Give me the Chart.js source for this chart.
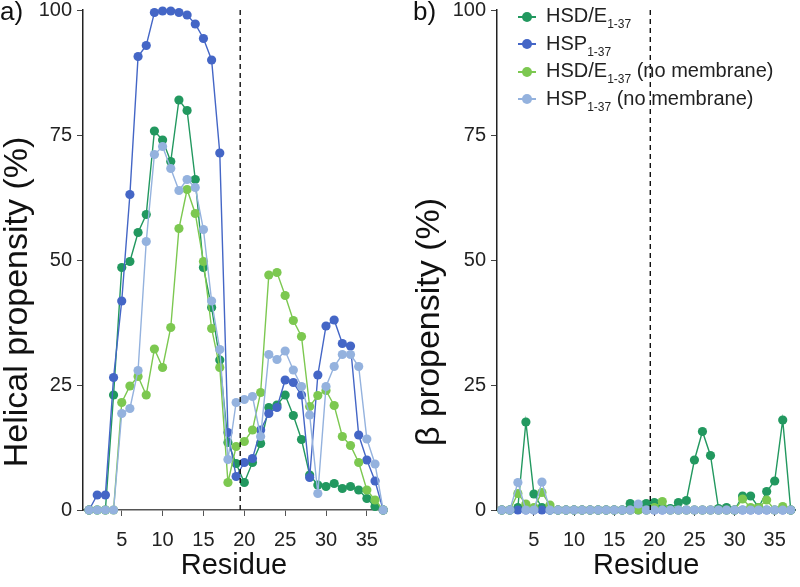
<!DOCTYPE html>
<html>
<head>
<meta charset="utf-8">
<script src="https://cdn.jsdelivr.net/npm/chart.js@4.4.1/dist/chart.umd.min.js"></script>
<style>
  body { margin: 0; background: #fff; font-family: 'Liberation Sans', Arial, sans-serif; }
  #wrap { position: relative; width: 800px; height: 587px; overflow: hidden; }
  #wrap canvas { position: absolute; top: 0; }
  #helixChart { left: 0; }
  #betaChart { left: 400px; }
  #legend { position: absolute; left: 518px; top: 2px; font-size: 20px; color: #222; }
  #legend .item { height: 27.5px; line-height: 27px; white-space: nowrap; }
  #legend .mk { display: inline-block; position: relative; width: 18px; height: 2px; margin-right: 10px; vertical-align: middle; }
  #legend .mk::after { content: ''; position: absolute; left: 4px; top: -4px; width: 10px; height: 10px; border-radius: 50%; background: inherit; }
  #legend sub { font-size: 12px; vertical-align: -6px; }
</style>
</head>
<body>
<div id="wrap">
  <canvas id="helixChart" width="400" height="587"></canvas>
  <canvas id="betaChart" width="400" height="587"></canvas>
  <div id="legend">
    <div class="item"><span class="mk" style="background:#22985f"></span>HSD/E<sub>1-37</sub></div>
    <div class="item"><span class="mk" style="background:#4466c6"></span>HSP<sub>1-37</sub></div>
    <div class="item"><span class="mk" style="background:#7cc850"></span>HSD/E<sub>1-37</sub> (no membrane)</div>
    <div class="item"><span class="mk" style="background:#94b2de"></span>HSP<sub>1-37</sub> (no membrane)</div>
  </div>
</div>
<script>
// residue numbers
const residues = [1, 2, 3, 4, 5, 6, 7, 8, 9, 10, 11, 12, 13, 14, 15, 16, 17, 18, 19,
  20, 21, 22, 23, 24, 25, 26, 27, 28, 29, 30, 31, 32, 33, 34, 35, 36, 37];
const xTicks = [5, 10, 15, 20, 25, 30, 35];
const yTicks = [0, 25, 50, 75, 100];
const splitResidue = 19.5;

// helical propensity (%)
const helixHsde = [0, 0, 0, 23, 48.5, 49.7, 55.5, 59.1, 75.8, 74, 69.7, 82, 79.9, 66.1, 48.5, 40.5, 30, 13.5, 9.3,
  5.5, 9.5, 13.3, 20.5, 21, 23, 18.9, 14.1, 7, 5, 4.7, 5.3, 4.3, 4.7, 4, 2.3, 0.7, 0];
const helixHsp = [0, 3, 3, 26.5, 41.8, 63.1, 90.7, 92.9, 99.5, 99.8, 99.8, 99.5, 99, 97.2, 94.3, 90, 71.4, 15.5, 6.7,
  9.5, 10.3, 16, 19.3, 20.5, 26, 25.5, 23, 6.5, 27, 36.8, 38, 33.3, 32.8, 15, 10, 5.8, 0];
const helixHsdeNoMem = [0, 0, 0, 0, 21.5, 24.8, 26.7, 23, 32.2, 28.5, 36.5, 56.3, 64.1, 59.3, 49.7, 36.3, 28.5, 5.5, 12.7,
  13.7, 16, 23.5, 47, 47.5, 42.9, 37.9, 34.7, 20.7, 22.9, 23.9, 20.9, 14.7, 12.9, 9.5, 4, 2, 0];
const helixHspNoMem = [0, 0, 0, 0, 19.3, 20.3, 27.9, 53.7, 71.1, 72.7, 68.3, 63.9, 66.1, 64.5, 56.1, 41.8, 32.1, 10.1, 21.5,
  22.1, 22.7, 14.7, 31.1, 30.1, 31.8, 28, 24.7, 19, 3.3, 24.7, 28.7, 31.1, 31.1, 28.7, 14.2, 9.2, 0];

// beta propensity (%)
const betaHsde = [0, 0, 0.5, 17.6, 3.2, 0.5, 0, 0, 0, 0, 0, 0, 0, 0, 0, 0, 1.3, 0.5, 1.3,
  1.5, 0.5, 0.3, 1.5, 1.9, 10, 15.7, 10.9, 0.3, 0.5, 0, 2.8, 2.8, 0.5, 3.7, 5.8, 18, 0];
const betaHsp = [0, 0, 0, 0, 0, 0, 0, 0, 0, 0, 0, 0, 0, 0, 0, 0, 0, 0, 0,
  0, 0, 0, 0, 0, 0, 0, 0, 0, 0, 0, 0, 0, 0, 0, 0, 0, 0];
const betaHsdeNoMem = [0, 0, 3.3, 1.2, 0.5, 3.5, 1, 0, 0, 0, 0, 0, 0, 0, 0, 0, 0, 0, 0,
  0.5, 1.7, 0, 0, 0, 0, 0, 0, 0, 0, 0, 2.2, 0.5, 0.5, 2, 0, 0.7, 0];
const betaHspNoMem = [0, 0, 5.5, 0, 0, 5.6, 0, 0, 0, 0, 0, 0, 0, 0, 0, 0, 0, 1.2, 0,
  0, 0, 0, 0, 0, 0, 0, 0, 0, 0, 0, 0, 0, 0, 0, 0, 0, 0];

const colors = ['#22985f', '#4466c6', '#7cc850', '#94b2de'];
const fontFamily = "'Liberation Sans', Arial, sans-serif";
Chart.defaults.font.family = fontFamily;
Chart.defaults.color = '#222';

function makeSets(series) {
    return series.map((vals, i) => ({
        data: residues.map((r, j) => ({ x: r, y: vals[j] })),
        borderColor: colors[i],
        backgroundColor: colors[i],
        borderWidth: 1.4,
        pointRadius: 4.6,
        pointHoverRadius: 4.6,
        pointBorderWidth: 0,
        clip: false,
        order: 4 - i
    }));
}

// dashed split line, panel letter and rotated y title
const extras = {
    id: 'extras',
    afterDatasetsDraw(chart, args, opts) {
        const ctx = chart.ctx;
        const x = chart.scales.x.getPixelForValue(splitResidue);
        ctx.save();
        ctx.strokeStyle = '#111';
        ctx.lineWidth = 1.4;
        ctx.setLineDash([5, 4]);
        ctx.beginPath();
        ctx.moveTo(x, chart.chartArea.top);
        ctx.lineTo(x, chart.chartArea.bottom);
        ctx.stroke();
        ctx.restore();
    },
    afterDraw(chart, args, opts) {
        const ctx = chart.ctx;
        ctx.save();
        ctx.fillStyle = '#111';
        ctx.font = '26px ' + fontFamily;
        ctx.textBaseline = 'top';
        ctx.fillText(opts.letter, opts.letterX, 0);
        ctx.translate(opts.titleX, opts.titleY);
        ctx.rotate(-Math.PI / 2);
        ctx.textAlign = 'center';
        ctx.textBaseline = 'middle';
        ctx.font = '34px ' + fontFamily;
        ctx.fillText(opts.title, 0, 0);
        ctx.restore();
    }
};

function makeChart(id, series, p) {
    return new Chart(document.getElementById(id), {
        type: 'line',
        data: { datasets: makeSets(series) },
        options: {
            responsive: false,
            animation: false,
            layout: { padding: { top: 10, right: p.right, bottom: 0, left: 0 } },
            plugins: {
                legend: { display: false },
                tooltip: { enabled: false },
                extras: p.extras
            },
            scales: {
                x: {
                    type: 'linear',
                    min: p.xMin,
                    max: p.xMax,
                    afterBuildTicks: s => { s.ticks = xTicks.map(v => ({ value: v })); },
                    afterFit: s => { s.height = 77; },
                    border: { color: p.xBorder, width: p.xBorderWidth },
                    grid: { drawOnChartArea: false, tickLength: 6, color: '#555' },
                    ticks: { font: { size: 20 }, padding: 12, color: '#222' },
                    title: { display: true, text: 'Residue', font: { size: 29 }, color: '#111' }
                },
                y: {
                    min: 0,
                    max: 100,
                    afterBuildTicks: s => { s.ticks = yTicks.map(v => ({ value: v })); },
                    afterFit: s => { s.width = p.yWidth; s.paddingTop = 0; s.paddingBottom = 0; },
                    border: { color: '#222', width: 1.5 },
                    grid: { drawOnChartArea: false, tickLength: 6, color: '#444' },
                    ticks: { font: { size: 20 }, padding: 5, color: '#222' }
                }
            }
        },
        plugins: [extras]
    });
}

makeChart('helixChart', [helixHsde, helixHsp, helixHsdeNoMem, helixHspNoMem], {
    right: 15, yWidth: 83, xMin: 0.26, xMax: 37.22, xBorder: '#555', xBorderWidth: 1.5,
    extras: { letter: 'a)', letterX: 0, title: 'Helical propensity (%)', titleX: 18, titleY: 302 }
});
makeChart('betaChart', [betaHsde, betaHsp, betaHsdeNoMem, betaHspNoMem], {
    right: 0, yWidth: 97, xMin: 0.4, xMax: 37.58, xBorder: '#111', xBorderWidth: 2,
    extras: { letter: 'b)', letterX: 13, title: 'β propensity (%)', titleX: 30, titleY: 322 }
});
</script>
</body>
</html>
